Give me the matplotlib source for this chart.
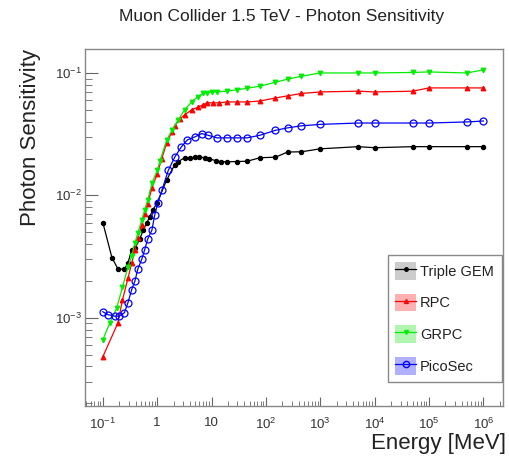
import matplotlib
matplotlib.use("Agg")
import matplotlib.pyplot as plt
from matplotlib.lines import Line2D
from matplotlib.patches import Patch

plt.rcParams['font.family'] = ['Liberation Sans', 'DejaVu Sans']
plt.rcParams['mathtext.fontset'] = 'custom'
plt.rcParams['mathtext.rm'] = 'Liberation Sans'
plt.rcParams['mathtext.it'] = 'Liberation Sans'
plt.rcParams['mathtext.default'] = 'regular'

# --- data ---
gem_e = [0.1, 0.147, 0.19, 0.25, 0.29, 0.34, 0.39, 0.48, 0.55, 0.65, 0.73, 0.83, 1.0, 1.5,
         2.1, 2.4, 3.2, 4.0, 4.9, 6.0, 7.5, 9.0, 12, 15, 19, 30, 45, 78, 150, 250, 450,
         1000, 5000, 1e4, 5e4, 1e5, 5e5, 1e6]
gem_y = [0.006, 0.0031, 0.0025, 0.0025, 0.0028, 0.0036, 0.0037, 0.0044, 0.0052, 0.006, 0.0067,
         0.0076, 0.0087, 0.0134, 0.0178, 0.0188, 0.0203, 0.0203, 0.0204, 0.0205, 0.0203, 0.0199,
         0.0192, 0.0188, 0.0188, 0.0189, 0.019, 0.0203, 0.0205, 0.0226, 0.0227, 0.024, 0.025,
         0.0245, 0.025, 0.025, 0.025, 0.025]

rpc_e = [0.1, 0.19, 0.23, 0.29, 0.34, 0.39, 0.44, 0.52, 0.59, 0.67, 0.8, 1.0, 1.22, 1.5, 1.87,
         2.1, 2.6, 3.2, 4.3, 5.6, 7, 8.3, 10.5, 14, 19, 30, 45, 78, 150, 250, 450, 1000, 5000,
         1e4, 5e4, 1e5, 5e5, 1e6]
rpc_y = [0.00048, 0.00091, 0.0014, 0.0021, 0.0028, 0.0036, 0.0045, 0.0057, 0.007, 0.0085, 0.0115,
         0.015, 0.02, 0.027, 0.033, 0.037, 0.042, 0.0455, 0.05, 0.0525, 0.055, 0.057, 0.057,
         0.057, 0.058, 0.058, 0.058, 0.059, 0.0625, 0.065, 0.068, 0.070, 0.071, 0.070, 0.071,
         0.0755, 0.0755, 0.0755]

grpc_e = [0.1, 0.135, 0.18, 0.23, 0.29, 0.34, 0.39, 0.44, 0.52, 0.59, 0.67, 0.8, 1.0, 1.12, 1.5,
          1.87, 2.4, 3.2, 4.3, 5.6, 7, 8.3, 10, 12.6, 19, 30, 45, 78, 150, 250, 450, 1000, 5000,
          1e4, 5e4, 1e5, 5e5, 1e6]
grpc_y = [0.00066, 0.00091, 0.0012, 0.00178, 0.0026, 0.0032, 0.0041, 0.0049, 0.0063, 0.0076,
          0.0092, 0.0125, 0.016, 0.019, 0.0284, 0.034, 0.041, 0.050, 0.058, 0.064, 0.068, 0.069,
          0.070, 0.070, 0.071, 0.073, 0.075, 0.078, 0.084, 0.089, 0.094, 0.1, 0.1, 0.1, 0.101,
          0.102, 0.1, 0.106]

pico_e = [0.1, 0.124, 0.165, 0.2, 0.25, 0.29, 0.34, 0.39, 0.44, 0.52, 0.59, 0.67, 0.8, 0.9, 1.03,
          1.22, 1.6, 2.1, 2.8, 3.6, 4.9, 6.6, 8.6, 12.6, 19, 30, 45, 78, 150, 250, 450, 1000,
          5000, 1e4, 5e4, 1e5, 5e5, 1e6]
pico_y = [0.00112, 0.00106, 0.00103, 0.00103, 0.0011, 0.00133, 0.0017, 0.002, 0.0025, 0.003,
          0.0036, 0.0044, 0.0052, 0.0069, 0.0087, 0.011, 0.016, 0.0205, 0.025, 0.0284, 0.030,
          0.032, 0.031, 0.0295, 0.0295, 0.0295, 0.0295, 0.031, 0.034, 0.0356, 0.037, 0.038,
          0.039, 0.039, 0.039, 0.039, 0.0398, 0.0405]

x_ticks = [0.1, 1, 10, 1e2, 1e3, 1e4, 1e5, 1e6]
x_ticklabels = ['$10^{-1}$', '1', '10', '$10^{2}$', '$10^{3}$', '$10^{4}$', '$10^{5}$', '$10^{6}$']
y_ticks = [1e-3, 1e-2, 1e-1]
y_ticklabels = ['$10^{-3}$', '$10^{-2}$', '$10^{-1}$']

# --- plot ---
fig = plt.figure(figsize=(5.09, 4.57), dpi=100)
ax = fig.add_axes([85/509, 51/457, 418/509, 357/457])

series = [
    ("Triple GEM", gem_e, gem_y, 'black', 'o', 3, 'black', '#cccccc'),
    ("RPC", rpc_e, rpc_y, 'red', '^', 3.3, 'red', '#ffb0b0'),
    ("GRPC", grpc_e, grpc_y, '#00ee00', 'v', 3.3, '#00ee00', '#b0f5b0'),
    ("PicoSec", pico_e, pico_y, 'blue', 'o', 5, 'none', '#b0b0ff'),
]

handles = []
for name, e, y, col, mk, ms, mfc, band in series:
    ax.plot(e, y, color=col, lw=0.9, marker=mk, ms=ms, mfc=mfc, mec=col, mew=0.9)
    h = (Patch(facecolor=band, edgecolor='none'),
         Line2D([], [], color=col, lw=0.9, marker=mk, ms=ms - 0.5, mfc=mfc, mec=col))
    handles.append(h)

ax.set_xscale('log')
ax.set_yscale('log')
ax.set_xlim(0.047, 2.3e6)
ax.set_ylim(1.9e-4, 0.157)

ax.set_xticks(x_ticks)
ax.set_xticklabels(x_ticklabels)
ax.set_yticks(y_ticks)
ax.set_yticklabels(y_ticklabels)

for s in ax.spines.values():
    s.set_color('#888888')
    s.set_linewidth(1.0)

ax.tick_params(axis='both', which='both', direction='in', top=False, right=False,
               colors='#666666', labelcolor='#333333', labelsize=9.5)
ax.tick_params(axis='x', which='major', length=6.5, pad=8)
ax.tick_params(axis='x', which='minor', length=3.5)
ax.tick_params(axis='y', which='major', length=9.5, pad=2)
ax.tick_params(axis='y', which='minor', length=5)

ax.set_xlabel("Energy [MeV]", fontsize=16, color='#222222', loc='right')
ax.xaxis.set_label_coords(1.008, -0.075)
ax.set_ylabel("Photon Sensitivity", fontsize=16, color='#222222', loc='top')
ax.yaxis.set_label_coords(-0.106, 1.0)

fig.text(282/509, 1 - 17/457, "Muon Collider 1.5 TeV - Photon Sensitivity",
         ha='center', va='center', fontsize=12.5, color='#222222')

leg = ax.legend(handles, [s[0] for s in series], loc='lower left',
                bbox_to_anchor=(0.725, 0.067, 0.272, 0.387), mode='expand',
                fontsize=10.5, handlelength=1.4, handleheight=1.5, labelspacing=0.95,
                handletextpad=0.3, borderpad=0.5, fancybox=False, framealpha=1,
                edgecolor='#888888', borderaxespad=0)
for t in leg.get_texts():
    t.set_color('#222222')

fig.savefig("out.png", dpi=100)
